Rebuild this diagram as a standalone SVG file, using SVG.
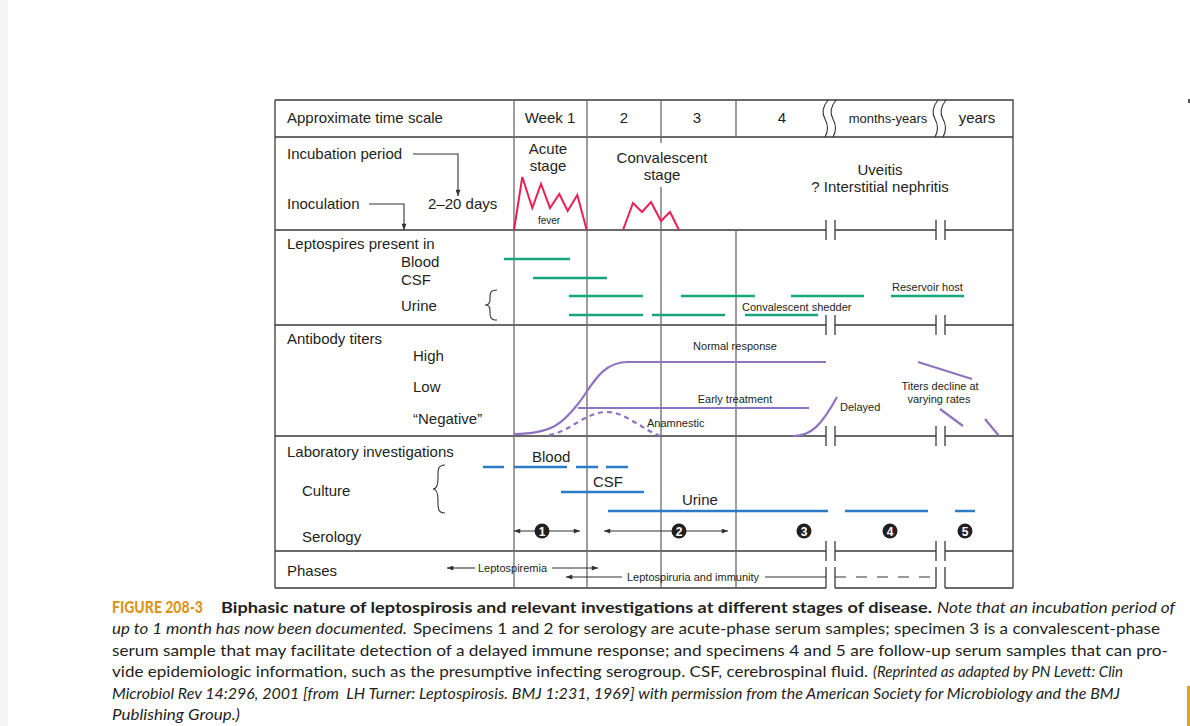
<svg xmlns="http://www.w3.org/2000/svg" width="1190" height="726" viewBox="0 0 1190 726">
<style>
.t{font-family:"Liberation Sans",Arial,sans-serif;fill:#231f20}
.l15{font-size:15px}
.l14{font-size:14px}
.l13{font-size:13px}
.s11{font-size:11px}
.s10{font-size:10px}
.mid{text-anchor:middle}
.grid{stroke:#3a3a3a;stroke-width:1.3;fill:none}
.vcol{stroke:#6a6a6a;stroke-width:1.3;fill:none}
.blk{stroke:#333;stroke-width:1.1;fill:none}
.grn{stroke:#17a57a;stroke-width:2.4;fill:none}
.blu{stroke:#2b7bc6;stroke-width:2.4;fill:none}
.pur{stroke:#8f72c0;stroke-width:2.2;fill:none}
.red{stroke:#ea1f52;stroke-width:2;fill:none;stroke-linejoin:miter}
.cap{font-family:Lato,"Open Sans",sans-serif;font-size:16px;fill:#231f20}
.num{font-family:"Liberation Sans",Arial,sans-serif;font-size:12px;font-weight:bold;fill:#fff;text-anchor:middle}
</style>
<defs>
<marker id="ah" viewBox="0 0 10 8" refX="10" refY="4" markerWidth="8" markerHeight="5" markerUnits="userSpaceOnUse" orient="auto-start-reverse">
<path d="M0,0 L10,4 L0,8 Z" fill="#333"/>
</marker>
</defs>
<rect x="0" y="0" width="1190" height="726" fill="#fff"/>
<rect x="0" y="0" width="8" height="726" fill="#f5f5f5"/>
<rect x="1187" y="686" width="3" height="40" fill="#e3a128"/>
<rect x="1188" y="99" width="2" height="4" fill="#555"/>

<g id="grid">
<path class="grid" d="M275,100 H1013 V588 M275,100 V588 M275,137 H1013"/>
<path class="grid" d="M275,230 H826 M835,230 H936 M945,230 H1013"/>
<path class="grid" d="M275,325 H826 M835,325 H936 M945,325 H1013"/>
<path class="grid" d="M275,436 H826 M835,436 H936 M945,436 H1013"/>
<path class="grid" d="M275,551 H826 M835,551 H936 M945,551 H1013"/>
<path class="grid" d="M275,588 H826 M835,588 H936 M945,588 H1013"/>
<path class="grid" d="M826,220 V240 M835,220 V240 M936,220 V240 M945,220 V240 M826,315 V335 M835,315 V335 M936,315 V335 M945,315 V335 M826,426 V446 M835,426 V446 M936,426 V446 M945,426 V446 M826,541 V561 M835,541 V561 M936,541 V561 M945,541 V561 M826,567 V588 M835,567 V588 M936,567 V588 M945,567 V588"/>
<path class="vcol" d="M514,100 V588 M587,100 V588 M661,100 V143 M661,187 V588 M736,100 V137 M736,230 V588"/>
<path class="blk" d="M828,100 q-8,10 -3,19 q5,9 0,18 M836,100 q-8,10 -3,19 q5,9 0,18 M938,100 q-8,10 -3,19 q5,9 0,18 M946,100 q-8,10 -3,19 q5,9 0,18"/>
</g>

<g id="row-timescale">
<text class="t l15" x="287" y="123">Approximate time scale</text>
<text class="t l15 mid" x="550" y="123">Week 1</text>
<text class="t l15 mid" x="624" y="123">2</text>
<text class="t l15 mid" x="697" y="123">3</text>
<text class="t l15 mid" x="782" y="123">4</text>
<text class="t l13 mid" x="888" y="123">months-years</text>
<text class="t l15 mid" x="977" y="123">years</text>
</g>

<g id="row-incubation">
<text class="t l15" x="287" y="159">Incubation period</text>
<text class="t l15" x="287" y="209">Inoculation</text>
<text class="t l15" x="428" y="209">2–20 days</text>
<text class="t l15 mid" x="548" y="154">Acute</text>
<text class="t l15 mid" x="548" y="171">stage</text>
<text class="t l15 mid" x="662" y="163">Convalescent</text>
<text class="t l15 mid" x="662" y="180">stage</text>
<text class="t l15 mid" x="880" y="175">Uveitis</text>
<text class="t l15 mid" x="880" y="192">? Interstitial nephritis</text>
<polyline class="red" points="514,230 522.3,177 532.3,208 541,184 550,208 559.3,194 567.7,211 577.3,195 586.7,230"/>
<text class="t s10 mid" x="549" y="224">fever</text>
<polyline class="red" points="623,230 633,203 642,212 651,202 661,221 670,212 679,230"/>
</g>

<g id="row-leptospires">
<text class="t l15" x="287" y="249">Leptospires present in</text>
<text class="t l15" x="401" y="267">Blood</text>
<text class="t l15" x="401" y="285">CSF</text>
<text class="t l15" x="401" y="311">Urine</text>
<path class="blk" d="M497,290 C489,290 490,295 490,300 C490,304 488,305 485,305 C488,305 490,306 490,310 C490,315 489,320 497,320"/>
<path class="grn" d="M504,259 H570 M533,278 H607 M569,296 H643 M681,296 H755 M791,296 H864 M891,296 H964 M569,315 H643 M652,315 H725 M745,315 H818"/>
<text class="t s11" x="742" y="311">Convalescent shedder</text>
<text class="t s11" x="892" y="291">Reservoir host</text>
</g>

<g id="row-antibody">
<text class="t l15" x="287" y="344">Antibody titers</text>
<text class="t l15" x="413" y="361">High</text>
<text class="t l15" x="413" y="392">Low</text>
<text class="t l15" x="413" y="424">“Negative”</text>
<path class="pur" d="M514,434 C555,434 565,420 578,404 S600,362 628,362 L826,362"/>
<path class="pur" d="M578,408 H809"/>
<path class="pur" stroke-dasharray="5 4" d="M549,435 C570,432 585,412 607,412 C625,412 640,428 660,436"/>
<path class="pur" d="M793,436 C812,436 822,424 837,397"/>
<path class="pur" d="M918,362 L972,379 M940,409 L963,426 M985,419 L999,436"/>
<text class="t s11 mid" x="735" y="350">Normal response</text>
<text class="t s11 mid" x="735" y="403">Early treatment</text>
<text class="t s11" x="647" y="427">Anamnestic</text>
<text class="t s11" x="840" y="411">Delayed</text>
<text class="t s11 mid" x="940" y="390">Titers decline at</text>
<text class="t s11 mid" x="939" y="403">varying rates</text>
</g>

<g id="row-laboratory">
<text class="t l15" x="287" y="457">Laboratory investigations</text>
<text class="t l15" x="302" y="496">Culture</text>
<text class="t l15" x="302" y="542">Serology</text>
<path class="blk" d="M445,465 C437,465 438,471 438,478 C438,486 436,489 433,489 C436,489 438,492 438,500 C438,507 437,513 445,513"/>
<path class="blu" d="M483,467 H504 M514,467 H567 M576,467 H598 M606,467 H628 M561,492 H644 M608,511 H828 M845,511 H928 M955,511 H975"/>
<text class="t l15" x="532" y="462">Blood</text>
<text class="t l15" x="593" y="487">CSF</text>
<text class="t l15" x="682" y="505">Urine</text>
</g>

<g id="connectors">
<path class="blk" d="M413,154 H458 V196" marker-end="url(#ah)"/>
<path class="blk" d="M369,204 H404 V230" marker-end="url(#ah)"/>
<path class="blk" d="M514,531 H580" marker-start="url(#ah)" marker-end="url(#ah)"/>
<path class="blk" d="M604,531 H728" marker-start="url(#ah)" marker-end="url(#ah)"/>
<path class="blk" d="M475,568 H447" marker-end="url(#ah)"/>
<path class="blk" d="M552,568 H598" marker-end="url(#ah)"/>
<path class="blk" d="M622,577 H566" marker-end="url(#ah)"/>
<path class="blk" d="M765,577 H826"/>
<path class="blk" stroke-dasharray="11 10" d="M835,577 H930"/>
</g>

<g id="specimens">
<circle cx="542" cy="531" r="7.5" fill="#231f20"/><text class="num" x="542" y="535.5">1</text>
<circle cx="679" cy="531" r="7.5" fill="#231f20"/><text class="num" x="679" y="535.5">2</text>
<circle cx="804" cy="531" r="7.5" fill="#231f20"/><text class="num" x="804" y="535.5">3</text>
<circle cx="890" cy="531" r="7.5" fill="#231f20"/><text class="num" x="890" y="535.5">4</text>
<circle cx="965" cy="531" r="7.5" fill="#231f20"/><text class="num" x="965" y="535.5">5</text>
</g>

<g id="row-phases">
<text class="t l15" x="287" y="576">Phases</text>
<text class="t s11" x="478" y="572">Leptospiremia</text>
<text class="t s11" x="627" y="581">Leptospiruria and immunity</text>
</g>

<g id="caption">
<text class="cap" x="112" y="612.5" font-weight="900" style="fill:#dc951c" textLength="91" lengthAdjust="spacingAndGlyphs">FIGURE 208-3</text>
<text class="cap" x="221" y="612.5" font-weight="bold" textLength="711" lengthAdjust="spacingAndGlyphs">Biphasic nature of leptospirosis and relevant investigations at different stages of disease.</text>
<text class="cap" x="937" y="612.5" font-style="italic" textLength="238" lengthAdjust="spacingAndGlyphs">Note that an incubation period of</text>
<text class="cap" x="112" y="634" font-style="italic" textLength="295" lengthAdjust="spacingAndGlyphs">up to 1 month has now been documented.</text>
<text class="cap" x="413" y="634" textLength="747" lengthAdjust="spacingAndGlyphs">Specimens 1 and 2 for serology are acute-phase serum samples; specimen 3 is a convalescent-phase</text>
<text class="cap" x="112" y="655.5" textLength="1056" lengthAdjust="spacingAndGlyphs">serum sample that may facilitate detection of a delayed immune response; and specimens 4 and 5 are follow-up serum samples that can pro-</text>
<text class="cap" x="112" y="677" textLength="756" lengthAdjust="spacingAndGlyphs">vide epidemiologic information, such as the presumptive infecting serogroup. CSF, cerebrospinal fluid.</text>
<text class="cap" x="873" y="677" font-style="italic" textLength="250" lengthAdjust="spacingAndGlyphs">(Reprinted as adapted by PN Levett: Clin</text>
<text class="cap" x="112" y="698.5" font-style="italic" textLength="1008" lengthAdjust="spacingAndGlyphs">Microbiol Rev 14:296, 2001 [from &#160;LH Turner: Leptospirosis. BMJ 1:231, 1969] with permission from the American Society for Microbiology and the BMJ</text>
<text class="cap" x="112" y="720" font-style="italic" textLength="128" lengthAdjust="spacingAndGlyphs">Publishing Group.)</text>
</g>
</svg>
